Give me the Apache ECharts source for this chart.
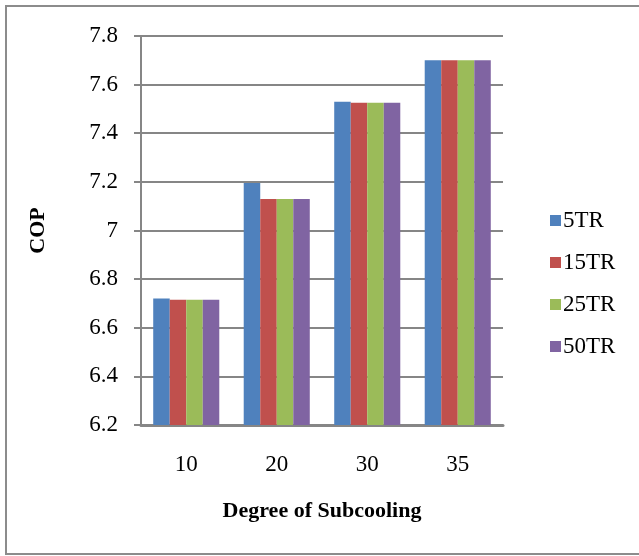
<!DOCTYPE html>
<html>
<head>
<meta charset="utf-8">
<script src="https://cdn.jsdelivr.net/npm/echarts@6/dist/echarts.min.js"></script>
<style>
  html, body { margin: 0; padding: 0; background: #fff; }
  #chart { width: 639px; height: 556px; }
</style>
</head>
<body>
<div id="chart"></div>
<script>
// Degree of subcooling on the x axis, COP for each refrigeration capacity
const categories = ['10', '20', '30', '35'];
const seriesNames = ['5TR', '15TR', '25TR', '50TR'];
const cop5TR  = [6.72, 7.195, 7.53, 7.70];
const cop15TR = [6.715, 7.13, 7.525, 7.70];
const cop25TR = [6.715, 7.13, 7.525, 7.70];
const cop50TR = [6.715, 7.13, 7.525, 7.70];
const colors = ['#4F81BD', '#C0504D', '#9BBB59', '#8064A2'];

const font = '"Liberation Serif", "Times New Roman", serif';
const chart = echarts.init(document.getElementById('chart'));

const values = [cop5TR, cop15TR, cop25TR, cop50TR];

chart.setOption({
  animation: false,
  textStyle: { fontFamily: font },
  graphic: [{
    type: 'rect',
    shape: { x: 6, y: 6, width: 640, height: 548 },
    style: { fill: 'none', stroke: '#8c8c8c', lineWidth: 2 }
  }],
  grid: { left: 141, right: 136, top: 36, bottom: 131 },
  legend: {
    orient: 'vertical',
    left: 545,
    top: 204,
    itemWidth: 11,
    itemHeight: 11,
    itemGap: 19,
    icon: 'rect',
    textStyle: { fontFamily: font, fontSize: 23, color: '#000', padding: [0, 0, 0, -3] },
    data: seriesNames
  },
  xAxis: {
    type: 'category',
    data: categories,
    name: 'Degree of Subcooling',
    nameLocation: 'middle',
    nameGap: 75,
    nameTextStyle: { fontFamily: font, fontSize: 22, fontWeight: 'bold', color: '#000' },
    axisLine: { lineStyle: { color: '#868686', width: 3 } },
    axisTick: { show: false },
    axisLabel: { fontFamily: font, fontSize: 23, color: '#000', margin: 28 }
  },
  yAxis: {
    type: 'value',
    min: 6.2,
    max: 7.8,
    interval: 0.2,
    name: 'COP',
    nameLocation: 'middle',
    nameGap: 92,
    nameRotate: 90,
    nameTextStyle: { fontFamily: font, fontSize: 22, fontWeight: 'bold', color: '#000' },
    axisLine: { show: true, lineStyle: { color: '#868686', width: 2 } },
    axisTick: { show: true, length: 7, lineStyle: { color: '#868686', width: 2 } },
    splitLine: { lineStyle: { color: '#868686', width: 2 } },
    axisLabel: {
      fontFamily: font, fontSize: 23, color: '#000', margin: 23,
      formatter: v => String(Math.round(v * 10) / 10)
    }
  },
  series: seriesNames.map((name, i) => ({
    name,
    type: 'bar',
    data: values[i],
    barGap: '0%',
    barCategoryGap: '27%',
    itemStyle: { color: colors[i] }
  }))
});
</script>
</body>
</html>
